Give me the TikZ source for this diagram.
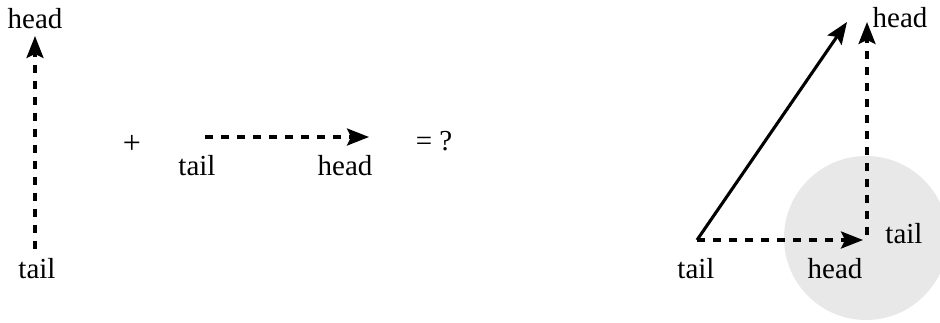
\documentclass[tikz,border=0pt]{standalone}
\usepackage{fontspec}
\setmainfont{Liberation Serif}
\usetikzlibrary{arrows.meta}
\definecolor{ink}{HTML}{000000}
\definecolor{disc}{HTML}{E8E8E8}
\tikzset{
  vec/.style={
    -{Stealth[length=11pt,width=8.5pt,inset=2pt]},
    draw=ink,
    line width=1.55pt
  },
  part/.style={
    vec,
    dash pattern=on 4pt off 4pt
  },
  lbl/.style={
    text=ink,
    anchor=base,
    inner sep=0pt,
    font=\fontsize{14.5}{16}\selectfont
  }
}
\begin{document}
\begin{tikzpicture}[x=0.5pt,y=-0.5pt]
  \useasboundingbox (0,0) rectangle (940,322);

  % Grey disc round the second vector's tail
  \fill[disc] (866,238) circle (82);

  % First vector, upright
  \coordinate (upTail) at (35,249);
  \coordinate (upHead) at (35,36);
  \node[lbl] (upHeadLbl) at (35,28) {head};
  \node[lbl] (upTailLbl) at (37,278) {tail};
  \draw[part] (upTail) -- (upHead);

  % Plus and second vector, level
  \node[lbl,font=\fontsize{16}{18}\selectfont] (plus) at (132,153) {+};
  \coordinate (flatTail) at (205,137);
  \coordinate (flatHead) at (369,137);
  \node[lbl] (flatTailLbl) at (197,175) {tail};
  \node[lbl] (flatHeadLbl) at (345,175) {head};
  \draw[part] (flatTail) -- (flatHead);
  \node[lbl] (ask) at (434,150) {= ?};

  % Sum: head to tail
  \coordinate (sumTail) at (697,240);
  \coordinate (sumJoin) at (863,240);
  \coordinate (sumHead) at (867,22);
  \coordinate (sumUp) at (867,235);
  \node[lbl] (sumTailLbl) at (696,278) {tail};
  \node[lbl] (sumJoinLbl) at (835,278) {head};
  \node[lbl] (sumUpLbl) at (904,243) {tail};
  \node[lbl] (sumHeadLbl) at (900,27) {head};
  \draw[part] (sumTail) -- (sumJoin);
  \draw[part] (sumUp) -- (sumHead);
  \draw[vec] (sumTail) -- ([xshift=-10]sumHead);
\end{tikzpicture}
\end{document}
